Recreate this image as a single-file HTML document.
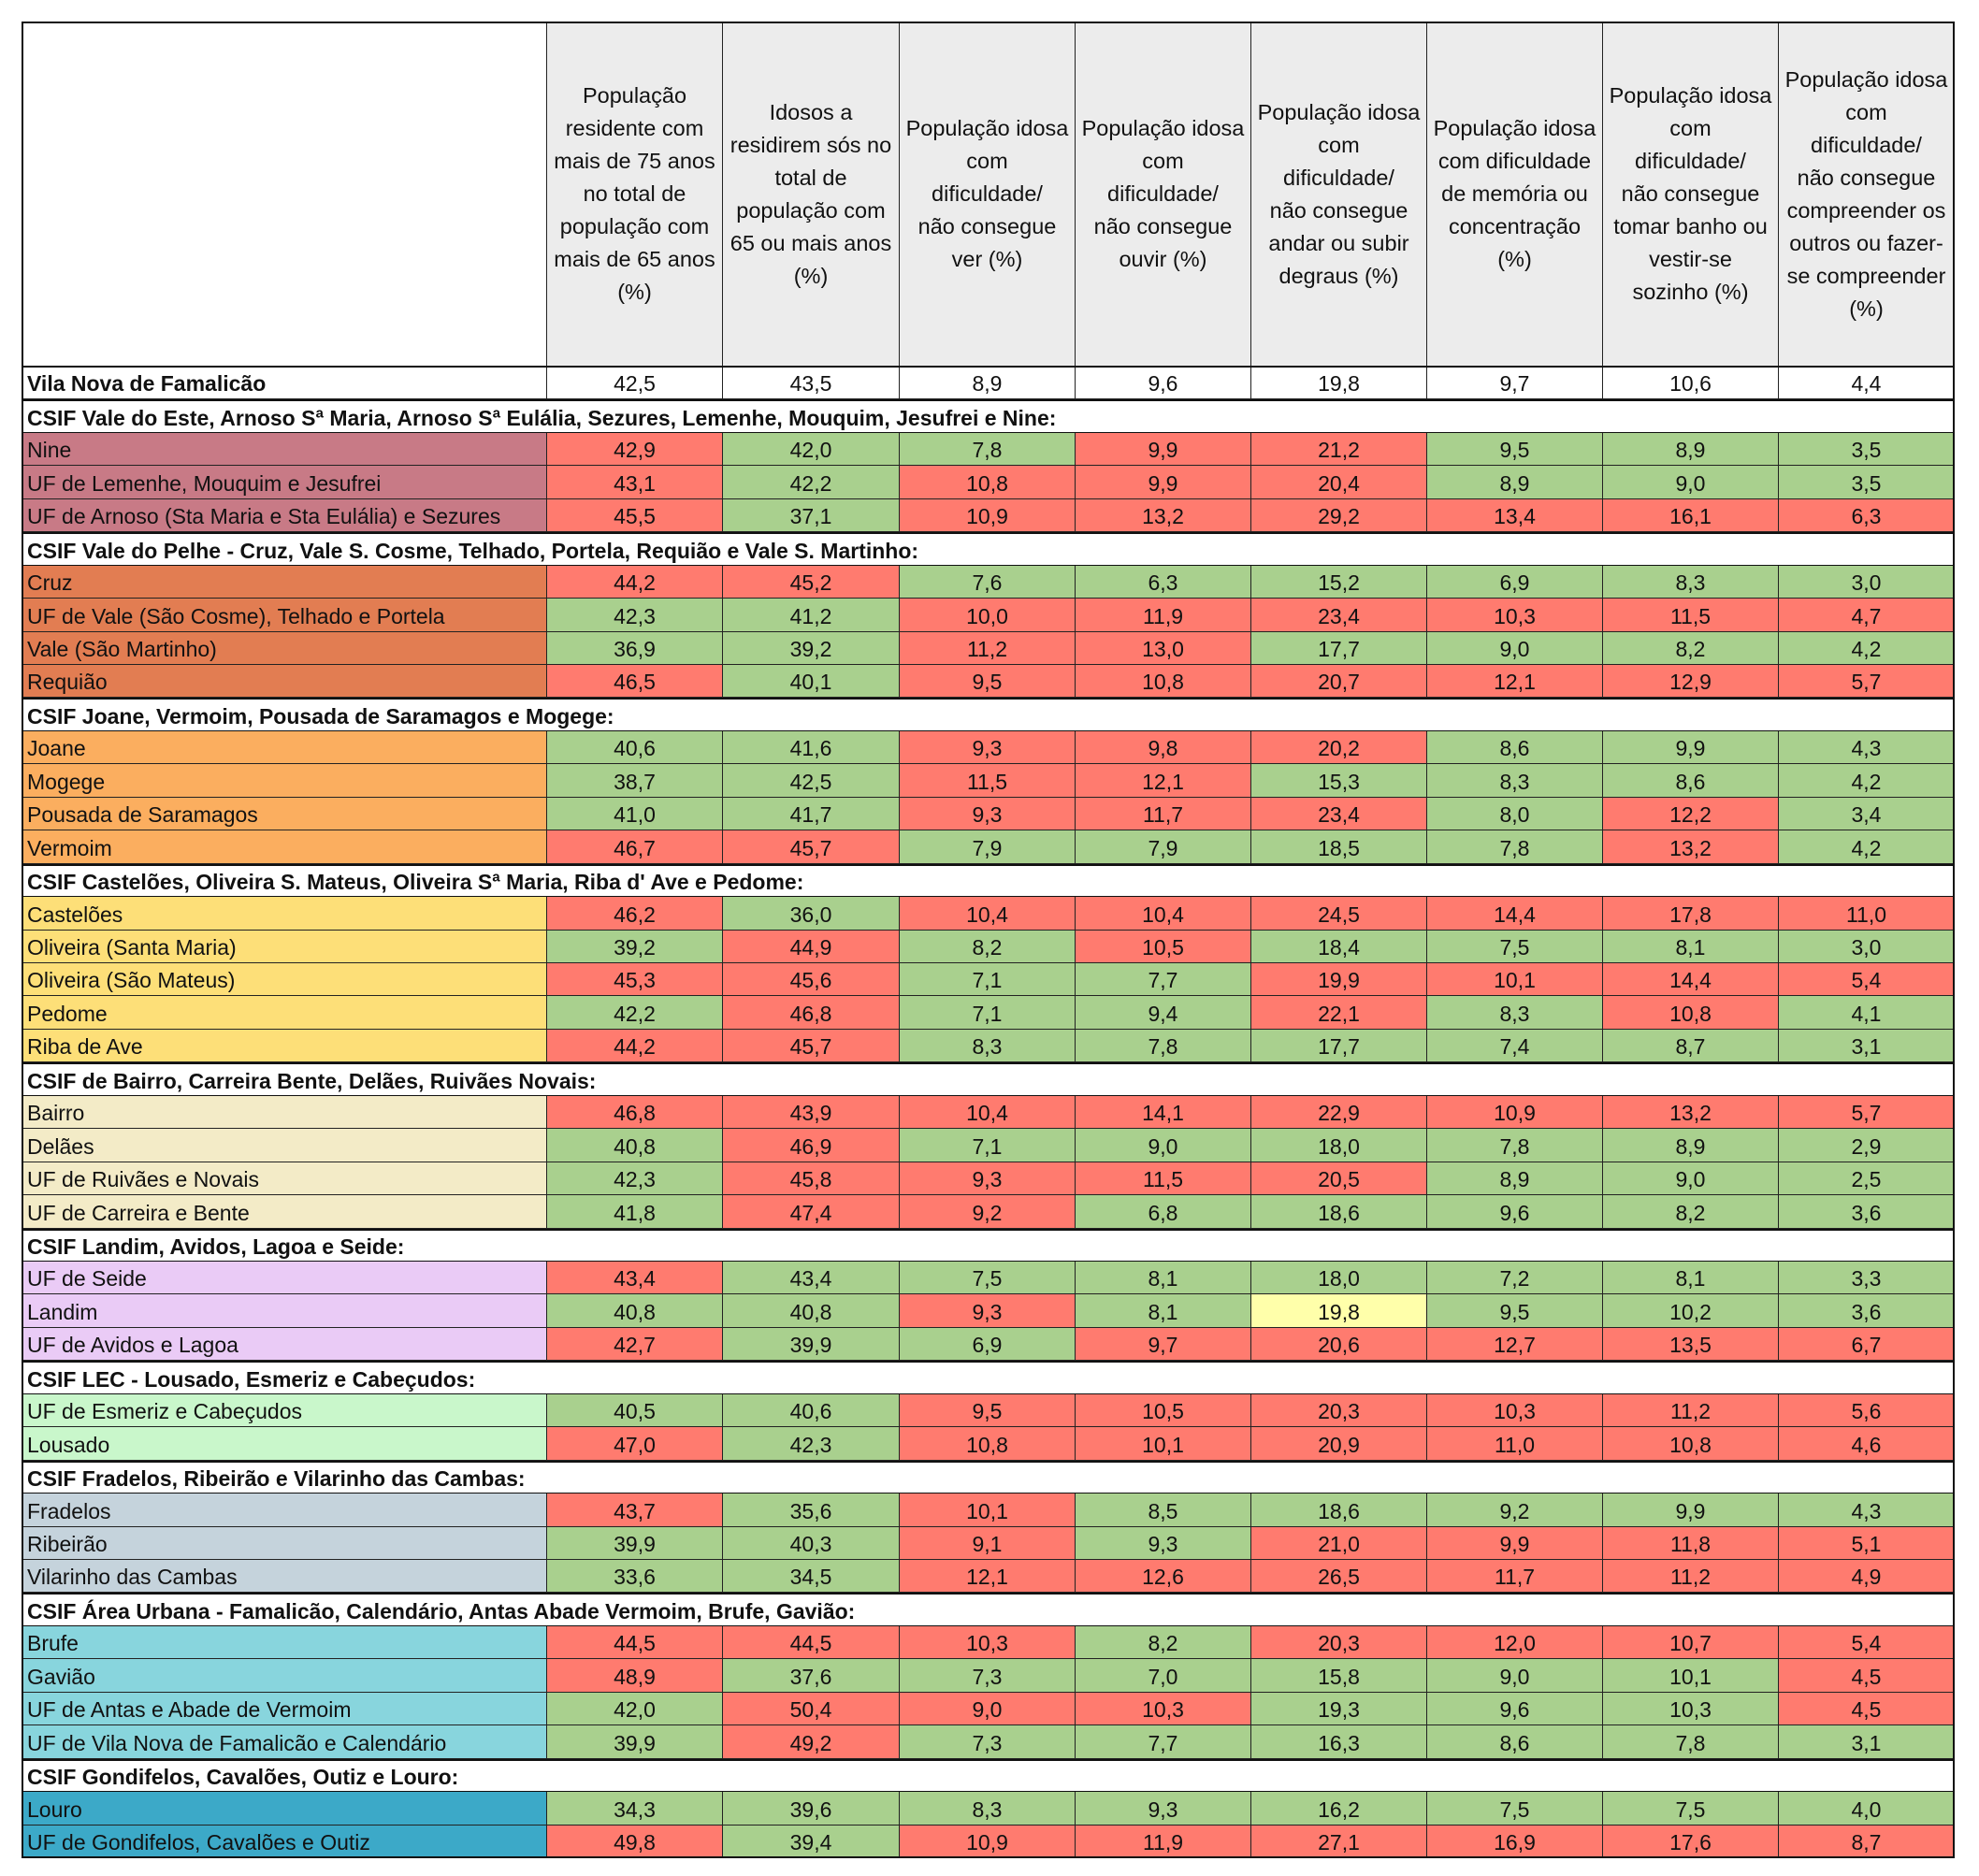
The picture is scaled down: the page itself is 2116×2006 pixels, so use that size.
<!DOCTYPE html>
<html><head><meta charset="utf-8">
<style>
html,body{margin:0;padding:0;background:#fff;}
#wrap{position:relative;width:2116px;height:2006px;font-family:"Liberation Sans",Arial,sans-serif;color:#111;}
.c{position:absolute;box-sizing:border-box;border-right:1px solid #222;border-bottom:1px solid #222;font-size:23px;white-space:nowrap;overflow:hidden;display:flex;align-items:center;}
.n{justify-content:center;}
.h{justify-content:center;text-align:center;line-height:35px;background:#ececec;font-size:23.5px;white-space:nowrap;}
.sec{font-weight:bold;background:#fff;border-top:2px solid #111;border-bottom:2px solid #111;}
</style></head><body>
<div id="wrap"></div>
<script>
const headers=[
"População<br>residente com<br>mais de 75 anos<br>no total de<br>população com<br>mais de 65 anos<br>(%)",
"Idosos a<br>residirem sós no<br>total de<br>população com<br>65 ou mais anos<br>(%)",
"População idosa<br>com<br>dificuldade/<br>não consegue<br>ver (%)",
"População idosa<br>com<br>dificuldade/<br>não consegue<br>ouvir (%)",
"População idosa<br>com<br>dificuldade/<br>não consegue<br>andar ou subir<br>degraus (%)",
"População idosa<br>com dificuldade<br>de memória ou<br>concentração<br>(%)",
"População idosa<br>com<br>dificuldade/<br>não consegue<br>tomar banho ou<br>vestir-se<br>sozinho (%)",
"População idosa<br>com<br>dificuldade/<br>não consegue<br>compreender os<br>outros ou fazer-<br>se compreender<br>(%)"];
const refName="Vila Nova de Famalicão";
const refValues=[42.5,43.5,8.9,9.6,19.8,9.7,10.6,4.4];
const sections=[
"CSIF Vale do Este, Arnoso Sª Maria, Arnoso Sª Eulália, Sezures, Lemenhe, Mouquim, Jesufrei e Nine:",
"CSIF Vale do Pelhe - Cruz, Vale S. Cosme, Telhado, Portela, Requião e Vale S. Martinho:",
"CSIF Joane, Vermoim, Pousada de Saramagos e Mogege:",
"CSIF Castelões, Oliveira S. Mateus, Oliveira Sª Maria, Riba d' Ave e Pedome:",
"CSIF de Bairro, Carreira Bente, Delães, Ruivães Novais:",
"CSIF Landim, Avidos, Lagoa e Seide:",
"CSIF LEC - Lousado, Esmeriz e Cabeçudos:",
"CSIF Fradelos, Ribeirão e Vilarinho das Cambas:",
"CSIF Área Urbana - Famalicão, Calendário, Antas Abade Vermoim, Brufe, Gavião:",
"CSIF Gondifelos, Cavalões, Outiz e Louro:"];
const sectionColors=["#c87a86","#e27d52","#fbae5f","#fddf78","#f3ebc7","#eacbf6","#c9f7cb","#c5d3dc","#88d5dd","#3ca9c8"];
const rowNames=[
["Nine","UF de Lemenhe, Mouquim e Jesufrei","UF de Arnoso (Sta Maria e Sta Eulália) e Sezures"],
["Cruz","UF de Vale (São Cosme), Telhado e Portela","Vale (São Martinho)","Requião"],
["Joane","Mogege","Pousada de Saramagos","Vermoim"],
["Castelões","Oliveira (Santa Maria)","Oliveira (São Mateus)","Pedome","Riba de Ave"],
["Bairro","Delães","UF de Ruivães e Novais","UF de Carreira e Bente"],
["UF de Seide","Landim","UF de Avidos e Lagoa"],
["UF de Esmeriz e Cabeçudos","Lousado"],
["Fradelos","Ribeirão","Vilarinho das Cambas"],
["Brufe","Gavião","UF de Antas e Abade de Vermoim","UF de Vila Nova de Famalicão e Calendário"],
["Louro","UF de Gondifelos, Cavalões e Outiz"]];
const rowValues=[
[[42.9,42.0,7.8,9.9,21.2,9.5,8.9,3.5],[43.1,42.2,10.8,9.9,20.4,8.9,9.0,3.5],[45.5,37.1,10.9,13.2,29.2,13.4,16.1,6.3]],
[[44.2,45.2,7.6,6.3,15.2,6.9,8.3,3.0],[42.3,41.2,10.0,11.9,23.4,10.3,11.5,4.7],[36.9,39.2,11.2,13.0,17.7,9.0,8.2,4.2],[46.5,40.1,9.5,10.8,20.7,12.1,12.9,5.7]],
[[40.6,41.6,9.3,9.8,20.2,8.6,9.9,4.3],[38.7,42.5,11.5,12.1,15.3,8.3,8.6,4.2],[41.0,41.7,9.3,11.7,23.4,8.0,12.2,3.4],[46.7,45.7,7.9,7.9,18.5,7.8,13.2,4.2]],
[[46.2,36.0,10.4,10.4,24.5,14.4,17.8,11.0],[39.2,44.9,8.2,10.5,18.4,7.5,8.1,3.0],[45.3,45.6,7.1,7.7,19.9,10.1,14.4,5.4],[42.2,46.8,7.1,9.4,22.1,8.3,10.8,4.1],[44.2,45.7,8.3,7.8,17.7,7.4,8.7,3.1]],
[[46.8,43.9,10.4,14.1,22.9,10.9,13.2,5.7],[40.8,46.9,7.1,9.0,18.0,7.8,8.9,2.9],[42.3,45.8,9.3,11.5,20.5,8.9,9.0,2.5],[41.8,47.4,9.2,6.8,18.6,9.6,8.2,3.6]],
[[43.4,43.4,7.5,8.1,18.0,7.2,8.1,3.3],[40.8,40.8,9.3,8.1,19.8,9.5,10.2,3.6],[42.7,39.9,6.9,9.7,20.6,12.7,13.5,6.7]],
[[40.5,40.6,9.5,10.5,20.3,10.3,11.2,5.6],[47.0,42.3,10.8,10.1,20.9,11.0,10.8,4.6]],
[[43.7,35.6,10.1,8.5,18.6,9.2,9.9,4.3],[39.9,40.3,9.1,9.3,21.0,9.9,11.8,5.1],[33.6,34.5,12.1,12.6,26.5,11.7,11.2,4.9]],
[[44.5,44.5,10.3,8.2,20.3,12.0,10.7,5.4],[48.9,37.6,7.3,7.0,15.8,9.0,10.1,4.5],[42.0,50.4,9.0,10.3,19.3,9.6,10.3,4.5],[39.9,49.2,7.3,7.7,16.3,8.6,7.8,3.1]],
[[34.3,39.6,8.3,9.3,16.2,7.5,7.5,4.0],[49.8,39.4,10.9,11.9,27.1,16.9,17.6,8.7]]];

const W=document.getElementById('wrap');
const L=24,T=24,R=2090,HB=392,B=1987,C1=585;
const colX=[C1,773,962,1150,1338,1526,1714,1902,R];
const nRows=1+sections.length+rowNames.reduce((a,b)=>a+b.length,0);
const RH=(B-HB)/nRows;
const fmt=v=>v.toFixed(1).replace('.',',');
function cell(x,y,w,h,cls,html,bg){const d=document.createElement('div');d.className='c '+cls;d.style.left=x+'px';d.style.top=y+'px';d.style.width=w+'px';d.style.height=h+'px';if(bg)d.style.background=bg;d.innerHTML=html;W.appendChild(d);return d;}
let d=cell(L,T,C1-L,HB-T,'','', '#fff');


headers.forEach((t,i)=>{const e=cell(colX[i],T,colX[i+1]-colX[i],HB-T,'h',t);

});
function colorFor(v,ref){return v>ref?'#ff7b6f':(v<ref?'#a9d08e':'#ffffaa');}
let y=HB;
function dataRow(name,vals,bg,bold){
  const yy=Math.round(y),hh=Math.round(y+RH)-yy;
  const n=cell(L,yy,C1-L,hh,'',name,bg);n.style.paddingLeft='5px';n.style.paddingTop='3px';if(bold)n.style.fontWeight='bold';
  
  
  vals.forEach((v,i)=>{const e=cell(colX[i],yy,colX[i+1]-colX[i],hh,'n',fmt(v),bold?'#fff':colorFor(v,refValues[i]));
  e.style.paddingTop='3px';
  
  });
  y+=RH;
}
dataRow(refName,refValues,'#fff',true);
sections.forEach((s,si)=>{
  const yy=Math.round(y),hh=Math.round(y+RH)-yy;
  const e=cell(L,yy,R-L,hh+1,'sec',s);e.style.paddingLeft='5px';e.style.paddingTop='3px';
  
  
  y+=RH;
  rowNames[si].forEach((nm,ri)=>dataRow(nm,rowValues[si][ri],sectionColors[si],false));
});
const o=document.createElement('div');
o.style.cssText=`position:absolute;left:${L-1}px;top:${T-1}px;width:${R-L+1}px;height:${B-T+1}px;border:2px solid #111;box-sizing:border-box;pointer-events:none`;


W.appendChild(o);
const hl=document.createElement('div');
hl.style.cssText=`position:absolute;left:${L}px;top:${HB-1}px;width:${R-L}px;height:2px;background:#111`;


W.appendChild(hl);
</script>
</body></html>
